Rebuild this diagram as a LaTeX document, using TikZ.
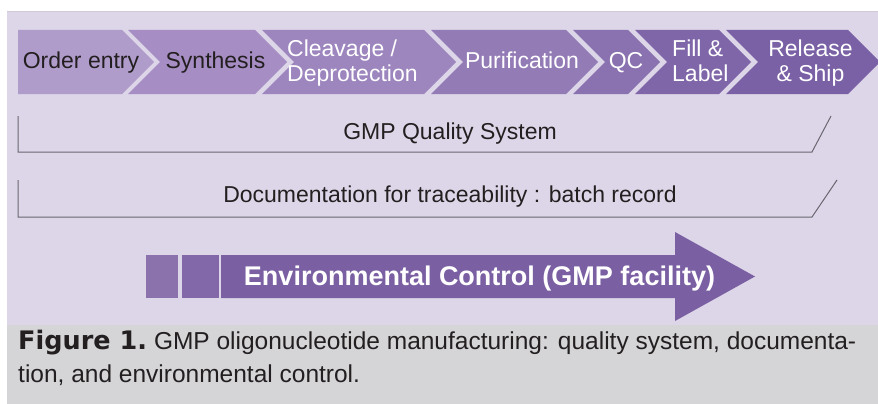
\documentclass[tikz,border=0pt]{standalone}
\usepackage{fontspec}
\setmainfont{Liberation Sans}
\newfontfamily\heavyfont{DejaVu Sans}
\definecolor{panelbg}{HTML}{DCD6E8}
\definecolor{panelrule}{HTML}{CFCAD6}
\definecolor{capbg}{HTML}{D5D5D7}
\definecolor{stA}{HTML}{AF9CCB}
\definecolor{stB}{HTML}{A68DC4}
\definecolor{stC}{HTML}{9D85BE}
\definecolor{stD}{HTML}{937BB6}
\definecolor{stE}{HTML}{8A71AF}
\definecolor{stF}{HTML}{7F66A8}
\definecolor{stG}{HTML}{7A61A5}
\definecolor{envA}{HTML}{8B72AD}
\definecolor{envB}{HTML}{8268A8}
\definecolor{envC}{HTML}{7A5FA3}
\definecolor{ink}{HTML}{231F20}
\definecolor{rulegray}{HTML}{6A6670}
% process stage with notch on the left and point on the right
\newcommand\stagechevron[3]{%
  \fill[#1] (#2,30) -- (#3,30) -- ({#3+32},62) -- (#3,94) -- (#2,94) -- ({#2+32},62) -- cycle;}
\begin{document}
\begin{tikzpicture}[x=1pt,y=-1pt,
  stagetext/.style={inner sep=0pt, font=\fontsize{23}{25}\selectfont},
  darktext/.style={stagetext, text=ink},
  lighttext/.style={stagetext, text=white},
  bandtext/.style={inner sep=0pt, anchor=base, text=ink, font=\fontsize{23}{25}\selectfont},
  bandline/.style={draw=rulegray, line width=1pt},
  captext/.style={inner sep=0pt, anchor=base west, text=ink, font=\fontsize{24.5}{30}\selectfont}]
\useasboundingbox (0,0) rectangle (878,404);
\fill[white] (0,0) rectangle (878,404);
% panels
\fill[panelbg] (7,11) rectangle (878,325);
\draw[panelrule, line width=1pt] (7,11.5) -- (878,11.5);
\fill[capbg] (7,325) rectangle (878,404);

% process stages
\fill[stA] (18,30) -- (122,30) -- (154,62) -- (122,94) -- (18,94) -- cycle;
\stagechevron{stB}{128}{255}
\stagechevron{stC}{262}{424}
\stagechevron{stD}{431}{566}
\stagechevron{stE}{573}{628}
\stagechevron{stF}{635}{719}
\stagechevron{stG}{726}{848}

\node[darktext, anchor=base] (order) at (81,68) {Order entry};
\node[darktext, anchor=base] (synth) at (215.5,68) {Synthesis};
\node[lighttext, anchor=west, align=left] (cleave) at (287,63) {Cleavage /\\Deprotection};
\node[lighttext, anchor=base] (purif) at (522,68) {Purification};
\node[lighttext, anchor=base] (qc) at (626,68) {QC};
\node[lighttext, anchor=west, align=left] (fill) at (672,61) {Fill \&\\Label};
\node[lighttext, align=center] (release) at (810.5,63) {Release\\\& Ship};

% quality system band
\node[bandtext] (gmp) at (450,139) {GMP Quality System};
\coordinate (gmpA) at (18,116);
\coordinate (gmpB) at (18,152);
\coordinate (gmpC) at (812,152);
\coordinate (gmpD) at (831,116);
\draw[bandline] (gmpA) -- (gmpB) -- (gmpC) -- (gmpD);

% documentation band
\node[bandtext] (doc) at (450,202) {Documentation for traceability : batch record};
\coordinate (docA) at (18,180);
\coordinate (docB) at (18,217);
\coordinate (docC) at (812,217);
\coordinate (docD) at (837,180);
\draw[bandline] (docA) -- (docB) -- (docC) -- (docD);

% environmental control arrow
\fill[envA] (146,255) rectangle (178,298);
\fill[envB] (182,255) rectangle (219,298);
\fill[envC] (221,255) -- (675,255) -- (675,232) -- (755,276.5) -- (675,321) -- (675,298) -- (221,298) -- cycle;
\node[inner sep=0pt, anchor=base, text=white, font=\fontsize{27}{30}\selectfont\bfseries] (env) at (479.5,285) {Environmental Control (GMP facility)};

% caption
\node[captext] (cap1) at (18,349) {{\heavyfont\bfseries\fontsize{25.5}{30}\selectfont Figure 1.}\hspace{-2pt} GMP oligonucleotide manufacturing: quality system, documenta-};
\node[captext] (cap2) at (18,382) {tion, and environmental control.};
\end{tikzpicture}
\end{document}
